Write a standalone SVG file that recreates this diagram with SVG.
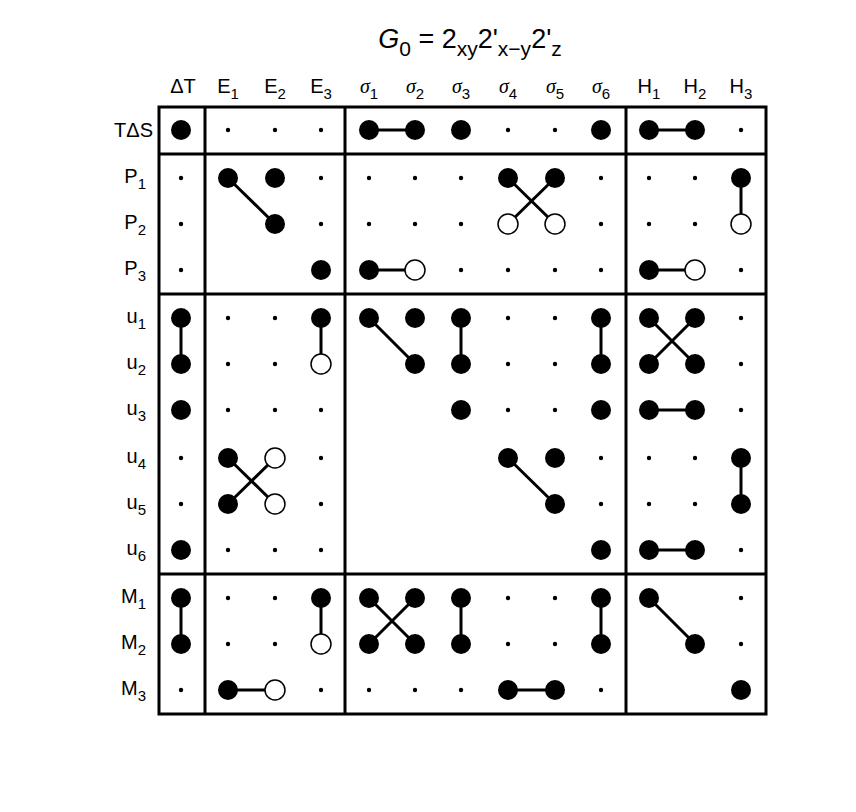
<svg xmlns="http://www.w3.org/2000/svg" width="856" height="812" viewBox="0 0 856 812">
<style>
.t{font-family:"Liberation Sans",Arial,sans-serif;font-size:20px;fill:#000}
.g{font-family:"Liberation Serif",serif;font-style:italic;font-size:20px}
.f{fill:#000}
.o{fill:#fff;stroke:#000;stroke-width:1.5}
.s{fill:#000}
.l{stroke:#000;stroke-width:3;fill:none}
.b{stroke:#000;stroke-width:3;fill:none}
</style>
<rect width="856" height="812" fill="#fff"/>
<text x="470" y="48" text-anchor="middle" font-family="Liberation Sans,Arial,sans-serif" font-size="27"><tspan font-style="italic">G</tspan><tspan dy="8" font-size="21">0</tspan><tspan dy="-8"> = 2</tspan><tspan dy="8" font-size="21">xy</tspan><tspan dy="-8">2'</tspan><tspan dy="8" font-size="21">x−y</tspan><tspan dy="-8">2'</tspan><tspan dy="8" font-size="21">z</tspan></text>
<g id="headers" class="t" text-anchor="middle">
<text x="183" y="93">ΔT</text>
<text x="228" y="93">E<tspan font-size="15" dy="6">1</tspan></text>
<text x="275" y="93">E<tspan font-size="15" dy="6">2</tspan></text>
<text x="321" y="93">E<tspan font-size="15" dy="6">3</tspan></text>
<text x="369" y="93"><tspan class="g">σ</tspan><tspan font-size="15" dy="6">1</tspan></text>
<text x="415" y="93"><tspan class="g">σ</tspan><tspan font-size="15" dy="6">2</tspan></text>
<text x="461" y="93"><tspan class="g">σ</tspan><tspan font-size="15" dy="6">3</tspan></text>
<text x="508" y="93"><tspan class="g">σ</tspan><tspan font-size="15" dy="6">4</tspan></text>
<text x="555" y="93"><tspan class="g">σ</tspan><tspan font-size="15" dy="6">5</tspan></text>
<text x="601" y="93"><tspan class="g">σ</tspan><tspan font-size="15" dy="6">6</tspan></text>
<text x="649" y="93">H<tspan font-size="15" dy="6">1</tspan></text>
<text x="695" y="93">H<tspan font-size="15" dy="6">2</tspan></text>
<text x="741" y="93">H<tspan font-size="15" dy="6">3</tspan></text>
</g>
<g id="rowlabels" class="t" text-anchor="end">
<text x="153" y="137">TΔS</text>
<text x="146" y="183">P<tspan font-size="15" dy="6">1</tspan></text>
<text x="146" y="229">P<tspan font-size="15" dy="6">2</tspan></text>
<text x="146" y="275">P<tspan font-size="15" dy="6">3</tspan></text>
<text x="146" y="323">u<tspan font-size="15" dy="6">1</tspan></text>
<text x="146" y="369">u<tspan font-size="15" dy="6">2</tspan></text>
<text x="146" y="415">u<tspan font-size="15" dy="6">3</tspan></text>
<text x="146" y="463">u<tspan font-size="15" dy="6">4</tspan></text>
<text x="146" y="509">u<tspan font-size="15" dy="6">5</tspan></text>
<text x="146" y="555">u<tspan font-size="15" dy="6">6</tspan></text>
<text x="146" y="603">M<tspan font-size="15" dy="6">1</tspan></text>
<text x="146" y="649">M<tspan font-size="15" dy="6">2</tspan></text>
<text x="146" y="695">M<tspan font-size="15" dy="6">3</tspan></text>
</g>
<g id="grid" class="b">
<rect x="159" y="107" width="607" height="607"/>
<line x1="205" y1="107" x2="205" y2="714"/>
<line x1="345" y1="107" x2="345" y2="714"/>
<line x1="626" y1="107" x2="626" y2="714"/>
<line x1="159" y1="154" x2="766" y2="154"/>
<line x1="159" y1="294" x2="766" y2="294"/>
<line x1="159" y1="574" x2="766" y2="574"/>
</g>
<g id="connectors" class="l">
<line x1="369" y1="130" x2="415" y2="130"/><line x1="649" y1="130" x2="695" y2="130"/>
<line x1="228" y1="178" x2="275" y2="224"/>
<line x1="508" y1="178" x2="555" y2="224"/><line x1="555" y1="178" x2="508" y2="224"/>
<line x1="741" y1="178" x2="741" y2="224"/>
<line x1="369" y1="270" x2="415" y2="270"/><line x1="649" y1="270" x2="695" y2="270"/>
<line x1="181" y1="318" x2="181" y2="364"/><line x1="321" y1="318" x2="321" y2="364"/>
<line x1="369" y1="318" x2="415" y2="364"/><line x1="461" y1="318" x2="461" y2="364"/>
<line x1="601" y1="318" x2="601" y2="364"/>
<line x1="649" y1="318" x2="695" y2="364"/><line x1="695" y1="318" x2="649" y2="364"/>
<line x1="649" y1="410" x2="695" y2="410"/>
<line x1="228" y1="458" x2="275" y2="504"/><line x1="275" y1="458" x2="228" y2="504"/>
<line x1="508" y1="458" x2="555" y2="504"/><line x1="741" y1="458" x2="741" y2="504"/>
<line x1="649" y1="550" x2="695" y2="550"/>
<line x1="181" y1="598" x2="181" y2="644"/><line x1="321" y1="598" x2="321" y2="644"/>
<line x1="369" y1="598" x2="415" y2="644"/><line x1="415" y1="598" x2="369" y2="644"/>
<line x1="461" y1="598" x2="461" y2="644"/><line x1="601" y1="598" x2="601" y2="644"/>
<line x1="649" y1="598" x2="695" y2="644"/>
<line x1="228" y1="690" x2="275" y2="690"/><line x1="508" y1="690" x2="555" y2="690"/>
</g>
<g id="nodes">
<circle class="f" cx="181" cy="130" r="10"/><circle class="s" cx="228" cy="130" r="2.2"/><circle class="s" cx="275" cy="130" r="2.2"/><circle class="s" cx="321" cy="130" r="2.2"/>
<circle class="f" cx="369" cy="130" r="10"/><circle class="f" cx="415" cy="130" r="10"/><circle class="f" cx="461" cy="130" r="10"/><circle class="s" cx="508" cy="130" r="2.2"/><circle class="s" cx="555" cy="130" r="2.2"/><circle class="f" cx="601" cy="130" r="10"/>
<circle class="f" cx="649" cy="130" r="10"/><circle class="f" cx="695" cy="130" r="10"/><circle class="s" cx="741" cy="130" r="2.2"/>
<circle class="s" cx="181" cy="178" r="2.2"/><circle class="f" cx="228" cy="178" r="10"/><circle class="f" cx="275" cy="178" r="10"/><circle class="s" cx="321" cy="178" r="2.2"/>
<circle class="s" cx="369" cy="178" r="2.2"/><circle class="s" cx="415" cy="178" r="2.2"/><circle class="s" cx="461" cy="178" r="2.2"/><circle class="f" cx="508" cy="178" r="10"/><circle class="f" cx="555" cy="178" r="10"/><circle class="s" cx="601" cy="178" r="2.2"/>
<circle class="s" cx="649" cy="178" r="2.2"/><circle class="s" cx="695" cy="178" r="2.2"/><circle class="f" cx="741" cy="178" r="10"/>
<circle class="s" cx="181" cy="224" r="2.2"/><circle class="f" cx="275" cy="224" r="10"/><circle class="s" cx="321" cy="224" r="2.2"/>
<circle class="s" cx="369" cy="224" r="2.2"/><circle class="s" cx="415" cy="224" r="2.2"/><circle class="s" cx="461" cy="224" r="2.2"/><circle class="o" cx="508" cy="224" r="10"/><circle class="o" cx="555" cy="224" r="10"/><circle class="s" cx="601" cy="224" r="2.2"/>
<circle class="s" cx="649" cy="224" r="2.2"/><circle class="s" cx="695" cy="224" r="2.2"/><circle class="o" cx="741" cy="224" r="10"/>
<circle class="s" cx="181" cy="270" r="2.2"/><circle class="f" cx="321" cy="270" r="10"/>
<circle class="f" cx="369" cy="270" r="10"/><circle class="o" cx="415" cy="270" r="10"/><circle class="s" cx="461" cy="270" r="2.2"/><circle class="s" cx="508" cy="270" r="2.2"/><circle class="s" cx="555" cy="270" r="2.2"/><circle class="s" cx="601" cy="270" r="2.2"/>
<circle class="f" cx="649" cy="270" r="10"/><circle class="o" cx="695" cy="270" r="10"/><circle class="s" cx="741" cy="270" r="2.2"/>
<circle class="f" cx="181" cy="318" r="10"/><circle class="s" cx="228" cy="318" r="2.2"/><circle class="s" cx="275" cy="318" r="2.2"/><circle class="f" cx="321" cy="318" r="10"/>
<circle class="f" cx="369" cy="318" r="10"/><circle class="f" cx="415" cy="318" r="10"/><circle class="f" cx="461" cy="318" r="10"/><circle class="s" cx="508" cy="318" r="2.2"/><circle class="s" cx="555" cy="318" r="2.2"/><circle class="f" cx="601" cy="318" r="10"/>
<circle class="f" cx="649" cy="318" r="10"/><circle class="f" cx="695" cy="318" r="10"/><circle class="s" cx="741" cy="318" r="2.2"/>
<circle class="f" cx="181" cy="364" r="10"/><circle class="s" cx="228" cy="364" r="2.2"/><circle class="s" cx="275" cy="364" r="2.2"/><circle class="o" cx="321" cy="364" r="10"/>
<circle class="f" cx="415" cy="364" r="10"/><circle class="f" cx="461" cy="364" r="10"/><circle class="s" cx="508" cy="364" r="2.2"/><circle class="s" cx="555" cy="364" r="2.2"/><circle class="f" cx="601" cy="364" r="10"/>
<circle class="f" cx="649" cy="364" r="10"/><circle class="f" cx="695" cy="364" r="10"/><circle class="s" cx="741" cy="364" r="2.2"/>
<circle class="f" cx="181" cy="410" r="10"/><circle class="s" cx="228" cy="410" r="2.2"/><circle class="s" cx="275" cy="410" r="2.2"/><circle class="s" cx="321" cy="410" r="2.2"/>
<circle class="f" cx="461" cy="410" r="10"/><circle class="s" cx="508" cy="410" r="2.2"/><circle class="s" cx="555" cy="410" r="2.2"/><circle class="f" cx="601" cy="410" r="10"/>
<circle class="f" cx="649" cy="410" r="10"/><circle class="f" cx="695" cy="410" r="10"/><circle class="s" cx="741" cy="410" r="2.2"/>
<circle class="s" cx="181" cy="458" r="2.2"/><circle class="f" cx="228" cy="458" r="10"/><circle class="o" cx="275" cy="458" r="10"/><circle class="s" cx="321" cy="458" r="2.2"/>
<circle class="f" cx="508" cy="458" r="10"/><circle class="f" cx="555" cy="458" r="10"/><circle class="s" cx="601" cy="458" r="2.2"/>
<circle class="s" cx="649" cy="458" r="2.2"/><circle class="s" cx="695" cy="458" r="2.2"/><circle class="f" cx="741" cy="458" r="10"/>
<circle class="s" cx="181" cy="504" r="2.2"/><circle class="f" cx="228" cy="504" r="10"/><circle class="o" cx="275" cy="504" r="10"/><circle class="s" cx="321" cy="504" r="2.2"/>
<circle class="f" cx="555" cy="504" r="10"/><circle class="s" cx="601" cy="504" r="2.2"/>
<circle class="s" cx="649" cy="504" r="2.2"/><circle class="s" cx="695" cy="504" r="2.2"/><circle class="f" cx="741" cy="504" r="10"/>
<circle class="f" cx="181" cy="550" r="10"/><circle class="s" cx="228" cy="550" r="2.2"/><circle class="s" cx="275" cy="550" r="2.2"/><circle class="s" cx="321" cy="550" r="2.2"/>
<circle class="f" cx="601" cy="550" r="10"/>
<circle class="f" cx="649" cy="550" r="10"/><circle class="f" cx="695" cy="550" r="10"/><circle class="s" cx="741" cy="550" r="2.2"/>
<circle class="f" cx="181" cy="598" r="10"/><circle class="s" cx="228" cy="598" r="2.2"/><circle class="s" cx="275" cy="598" r="2.2"/><circle class="f" cx="321" cy="598" r="10"/>
<circle class="f" cx="369" cy="598" r="10"/><circle class="f" cx="415" cy="598" r="10"/><circle class="f" cx="461" cy="598" r="10"/><circle class="s" cx="508" cy="598" r="2.2"/><circle class="s" cx="555" cy="598" r="2.2"/><circle class="f" cx="601" cy="598" r="10"/>
<circle class="f" cx="649" cy="598" r="10"/><circle class="s" cx="741" cy="598" r="2.2"/>
<circle class="f" cx="181" cy="644" r="10"/><circle class="s" cx="228" cy="644" r="2.2"/><circle class="s" cx="275" cy="644" r="2.2"/><circle class="o" cx="321" cy="644" r="10"/>
<circle class="f" cx="369" cy="644" r="10"/><circle class="f" cx="415" cy="644" r="10"/><circle class="f" cx="461" cy="644" r="10"/><circle class="s" cx="508" cy="644" r="2.2"/><circle class="s" cx="555" cy="644" r="2.2"/><circle class="f" cx="601" cy="644" r="10"/>
<circle class="f" cx="695" cy="644" r="10"/><circle class="s" cx="741" cy="644" r="2.2"/>
<circle class="s" cx="181" cy="690" r="2.2"/><circle class="f" cx="228" cy="690" r="10"/><circle class="o" cx="275" cy="690" r="10"/><circle class="s" cx="321" cy="690" r="2.2"/>
<circle class="s" cx="369" cy="690" r="2.2"/><circle class="s" cx="415" cy="690" r="2.2"/><circle class="s" cx="461" cy="690" r="2.2"/><circle class="f" cx="508" cy="690" r="10"/><circle class="f" cx="555" cy="690" r="10"/><circle class="s" cx="601" cy="690" r="2.2"/>
<circle class="f" cx="741" cy="690" r="10"/>
</g>
</svg>
